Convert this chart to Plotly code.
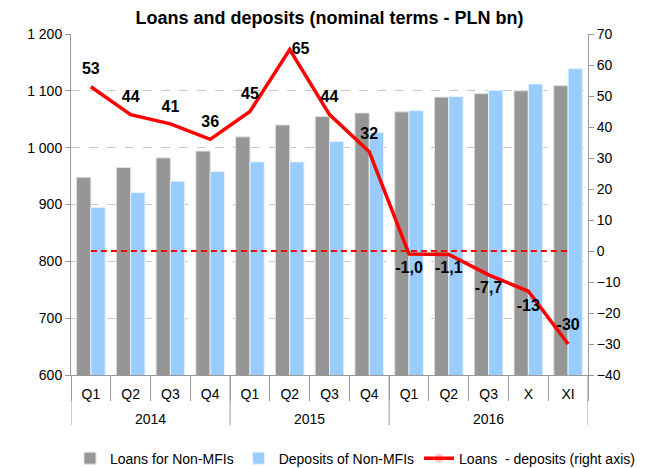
import plotly.graph_objects as go

years = ["2014"] * 4 + ["2015"] * 4 + ["2016"] * 5
periods = ["Q1", "Q2", "Q3", "Q4", "Q1", "Q2", "Q3", "Q4", "Q1", "Q2", "Q3", "X", "XI"]
loans = [948, 965, 982, 994, 1019, 1040, 1055, 1061, 1063, 1089, 1095, 1100, 1109]
deposits = [895, 921, 941, 958, 975, 975, 1011, 1027, 1065, 1090, 1101, 1112, 1139]
diff = [53, 44, 41, 36, 45, 65, 44, 32, -1.0, -1.1, -7.7, -13, -30]
zero_line = [0] * 13
left_ticks = [600, 700, 800, 900, 1000, 1100, 1200]
left_ticktext = ["600", "700", "800", "900", "1 000", "1 100", "1 200"]


def fmt(v):
    if abs(v) < 10:
        return f"{v:.1f}".replace(".", ",")
    return f"{v:.0f}"


diff_text = [fmt(v) for v in diff]
# label placement style (not data)
text_pos = ["top center"] * 5 + ["middle right"] + ["top center"] * 2 + ["bottom center"] * 4 + ["top center"]
label_pad = [12, 12, 11, 12, 12, 1.6, 12, 12, 9, 9, 9, 10, 15]

cats = [f"{y} {p}" for y, p in zip(years, periods)]

groups = []
for i, y in enumerate(years):
    if not groups or groups[-1][0] != y:
        groups.append([y, i, i])
    else:
        groups[-1][2] = i

FONT = "Liberation Sans, Arial, sans-serif"
AXC = "#999999"

fig = go.Figure()
fig.add_trace(go.Bar(x=cats, y=loans, name="Loans for Non-MFIs",
                     marker=dict(color="#969696", line=dict(color="#e0e0e0", width=1))))
fig.add_trace(go.Bar(x=cats, y=deposits, name="Deposits of Non-MFIs",
                     marker=dict(color="#99ccff", line=dict(color="#e6f2ff", width=1))))
fig.add_trace(go.Scatter(x=cats, y=zero_line, yaxis="y2", mode="lines",
                         line=dict(color="#ff0000", width=2, dash="6px,4px"),
                         showlegend=False, hoverinfo="skip"))
fig.add_trace(go.Scatter(x=cats, y=diff, yaxis="y2", mode="lines+markers+text",
                         name="Loans  - deposits (right axis)",
                         line=dict(color="#ff0000", width=3.5),
                         marker=dict(size=label_pad, opacity=0, color="#ff0000"),
                         text=diff_text, textposition=text_pos,
                         textfont=dict(family=FONT, size=16, color="black", weight="bold")))

for name, i0, i1 in groups:
    fig.add_annotation(x=(i0 + i1) / 2, y=-0.128, xref="x", yref="paper",
                       text=name, showarrow=False, yanchor="middle",
                       font=dict(size=14, family=FONT, color="black"))
bounds = [g[1] - 0.5 for g in groups] + [groups[-1][2] + 0.5]
for b in bounds:
    fig.add_shape(type="line", xref="x", yref="paper", x0=b, x1=b, y0=0, y1=-0.147,
                  line=dict(color=AXC, width=1))

fig.update_layout(
    width=667, height=468,
    margin=dict(l=71, r=79, t=34, b=93, autoexpand=False),
    paper_bgcolor="white", plot_bgcolor="white",
    font=dict(family=FONT, size=14, color="black"),
    title=dict(text="<b>Loans and deposits (nominal terms - PLN bn)</b>",
               x=0.494, xanchor="center", y=0.962, yanchor="middle",
               font=dict(size=18, family=FONT, color="black")),
    barmode="group", bargap=0.28, bargroupgap=0.0,
    showlegend=True,
    legend=dict(orientation="h", x=-0.002, xanchor="left", y=-0.245, yanchor="middle",
                font=dict(size=14, family=FONT), traceorder="normal",
                itemwidth=30, tracegroupgap=0),
    xaxis=dict(type="category", tickvals=cats, ticktext=periods, tickson="boundaries",
               range=[-0.5, len(cats) - 0.5],
               showline=True, linecolor=AXC, linewidth=1,
               ticks="outside", tickcolor=AXC, ticklen=25,
               ticklabelstandoff=6,
               tickfont=dict(size=14), showgrid=False),
    yaxis=dict(range=[600, 1200], tickvals=left_ticks, ticktext=left_ticktext,
               showline=True, linecolor=AXC, linewidth=1,
               ticks="outside", tickcolor=AXC, ticklen=5,
               showgrid=True, gridcolor="#c8c8c8", griddash="dash", gridwidth=1,
               zeroline=False, tickfont=dict(size=14)),
    yaxis2=dict(range=[-40, 70], dtick=10, overlaying="y", side="right",
                showline=True, linecolor=AXC, linewidth=1,
                ticks="outside", tickcolor=AXC, ticklen=5,
                showgrid=False, zeroline=False, tickfont=dict(size=14)),
)

fig.write_html("out.html", config={"displayModeBar": False},
               post_script="document.body.style.margin='0';document.body.style.overflow='hidden';")
